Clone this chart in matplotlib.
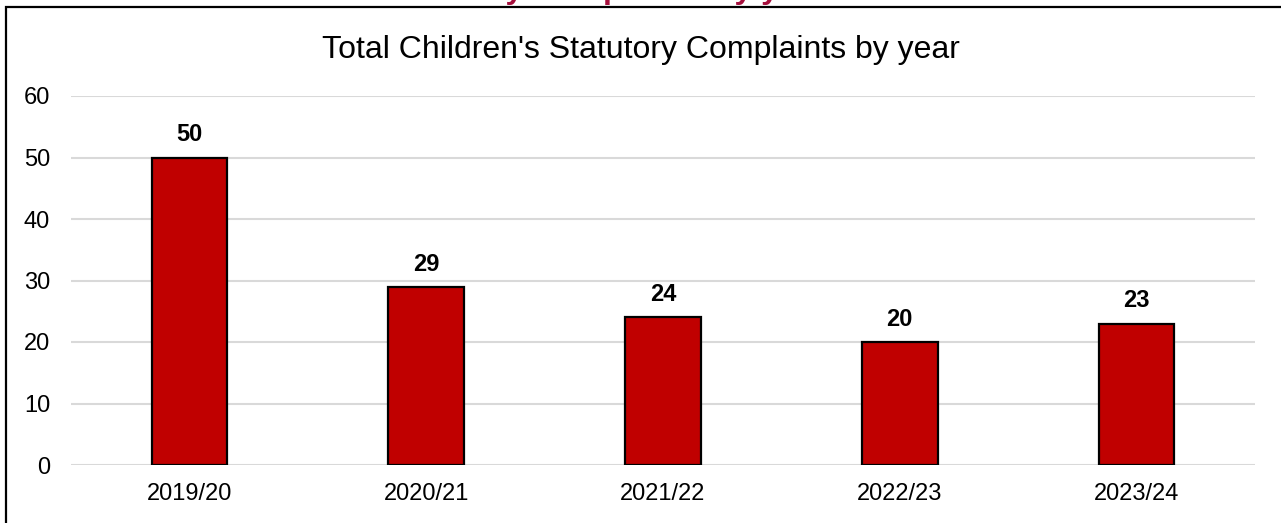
import matplotlib

matplotlib.use("Agg")

import matplotlib.pyplot as plt
from matplotlib.patches import Rectangle

years = ["2019/20", "2020/21", "2021/22", "2022/23", "2023/24"]
complaints = [50, 29, 24, 20, 23]
y_ticks = [0, 10, 20, 30, 40, 50, 60]

W, H = 1281, 523


def main() -> None:
    plt.rcParams["font.family"] = ["Liberation Sans", "DejaVu Sans"]

    fig = plt.figure(figsize=(W / 100, H / 100), dpi=100)
    ax = fig.add_axes([71 / W, (H - 465) / H, (1255 - 71) / W, (465 - 96) / H])

    x = range(len(years))
    bars = ax.bar(x, complaints, width=0.32, color="#c00000",
                  edgecolor="black", linewidth=1.6, zorder=3)
    for rect, val in zip(bars, complaints):
        ax.annotate(str(val), (rect.get_x() + rect.get_width() / 2, val),
                    xytext=(0, 8), textcoords="offset points",
                    ha="center", va="bottom", fontsize=17,
                    fontweight="bold", color="black")

    ax.set_xlim(-0.5, len(years) - 0.5)
    ax.set_ylim(0, 60)
    ax.set_yticks(y_ticks)
    ax.set_xticks(list(x))
    ax.set_xticklabels(years)
    ax.tick_params(axis="both", length=0, labelsize=17, colors="black")
    ax.tick_params(axis="y", pad=15)
    ax.tick_params(axis="x", pad=13)
    ax.grid(axis="y", color="#d9d9d9", linewidth=1.5, zorder=0)
    for s in ax.spines.values():
        s.set_visible(False)

    fig.text(0.5, (H - 50) / H, "Total Children's Statutory Complaints by year",
             ha="center", va="center", fontsize=23, color="black")

    # cut-off heading above the frame
    fig.text(827 / W, 1 + 2 / H, "Statutory Complaints by year",
             ha="right", va="baseline", fontsize=23, fontweight="bold",
             color="#a50f3c")

    frame = Rectangle((6 / W, -0.1), 1.2, (H - 7) / H + 0.1,
                      transform=fig.transFigure, fill=False,
                      edgecolor="black", linewidth=1.6)
    fig.add_artist(frame)

    fig.savefig("out.png", dpi=100)
    plt.close(fig)


if __name__ == "__main__":
    main()
